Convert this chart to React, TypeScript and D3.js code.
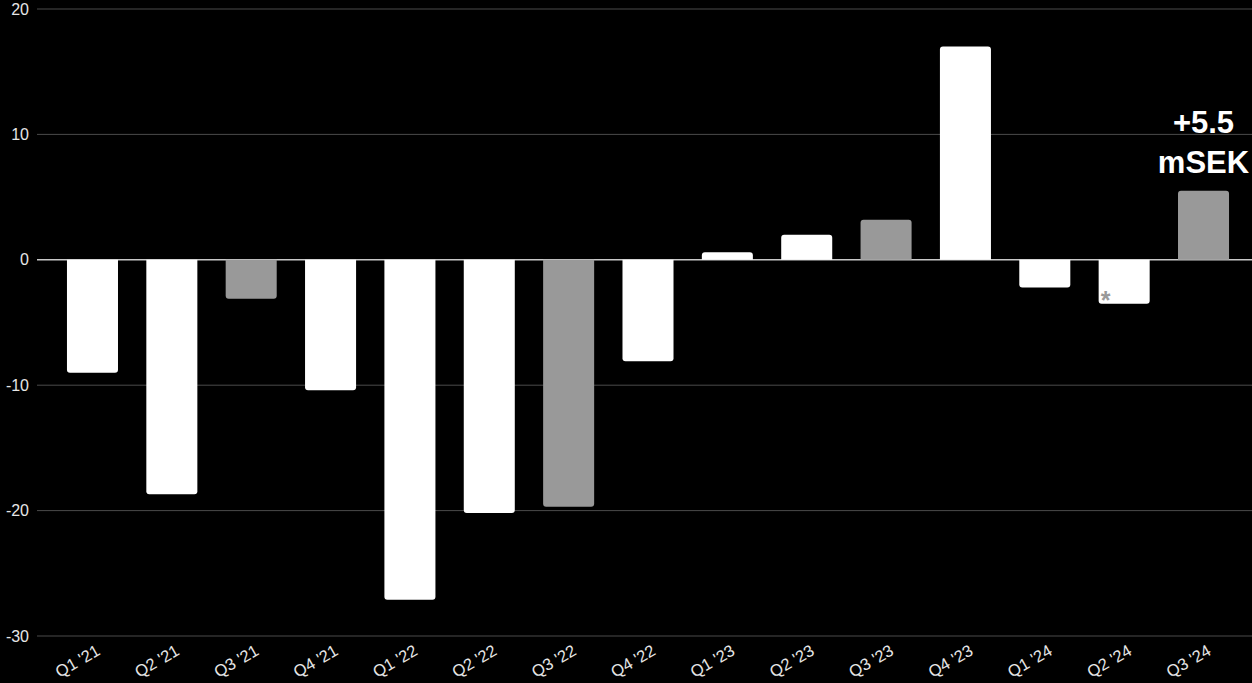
import React from "react";
import * as d3 from "d3";

const categories = ["Q1 '21", "Q2 '21", "Q3 '21", "Q4 '21", "Q1 '22", "Q2 '22", "Q3 '22", "Q4 '22", "Q1 '23", "Q2 '23", "Q3 '23", "Q4 '23", "Q1 '24", "Q2 '24", "Q3 '24"];
const values = [-9.0, -18.7, -3.1, -10.4, -27.1, -20.2, -19.7, -8.1, 0.6, 2.0, 3.2, 17.0, -2.2, -3.5, 5.5];
const highlighted = [false, false, true, false, false, false, true, false, false, false, true, false, false, false, true];
const yTicks = [20, 10, 0, -10, -20, -30];
const annotationLines = ["+5.5", "mSEK"];
const footnoteMark = "*";
const footnoteIndex = 13;

const W = 1252;
const H = 683;
const FONT = "'Liberation Sans', Arial, Helvetica, sans-serif";

function barPath(x0: number, x1: number, yZero: number, yEnd: number, r: number): string {
  const dir = yEnd < yZero ? -1 : 1;
  const h = Math.abs(yEnd - yZero);
  const rr = Math.min(r, h / 2, (x1 - x0) / 2);
  const p = d3.path();
  p.moveTo(x0, yZero);
  p.lineTo(x0, yEnd - dir * rr);
  p.quadraticCurveTo(x0, yEnd, x0 + rr, yEnd);
  p.lineTo(x1 - rr, yEnd);
  p.quadraticCurveTo(x1, yEnd, x1, yEnd - dir * rr);
  p.lineTo(x1, yZero);
  p.closePath();
  return p.toString();
}

export default function App() {
  const x = d3.scaleBand<string>().domain(categories).range([52.8, 1243.2]).paddingInner(0.357).paddingOuter(0.1785);
  const y = d3.scaleLinear().domain([-30, 20]).range([636, 9]);
  const gridX0 = 37;

  return (
    <svg
      width={W}
      height={H}
      style={{ position: "fixed", left: 0, top: 0, background: "#000", display: "block" }}
      fontFamily={FONT}
    >
      <rect x={0} y={0} width={W} height={H} fill="#000" />
      {yTicks.map((t) => (
        <g key={t}>
          <line
            x1={gridX0}
            x2={W}
            y1={y(t)}
            y2={y(t)}
            stroke={t === 0 ? "#c8c8c8" : "#4a4a4a"}
            strokeWidth={t === 0 ? 1.5 : 1}
          />
          <text x={29} y={y(t)} dy="0.35em" textAnchor="end" fill="#e6e6e6" fontSize={16}>
            {t}
          </text>
        </g>
      ))}
      {categories.map((c, i) => {
        const x0 = x(c)!;
        const x1 = x0 + x.bandwidth();
        return (
          <path
            key={c}
            d={barPath(x0, x1, y(0), y(values[i]), 3)}
            fill={highlighted[i] ? "#999999" : "#ffffff"}
          />
        );
      })}
      {categories.map((c) => {
        const cx = x(c)! + x.bandwidth() / 2 - 15;
        const cy = 661;
        return (
          <text
            key={c}
            x={cx}
            y={cy}
            dy="0.35em"
            textAnchor="middle"
            fill="#e6e6e6"
            fontSize={16.5}
            transform={`rotate(-30, ${cx}, ${cy})`}
          >
            {c}
          </text>
        );
      })}
      <text
        x={x(categories[footnoteIndex])! + 7}
        y={y(values[footnoteIndex]) + 5}
        fill="#999999"
        fontSize={25}
        fontWeight="bold"
        textAnchor="middle"
      >
        {footnoteMark}
      </text>
      {annotationLines.map((l, k) => {
        const last = categories.length - 1;
        const cx = x(categories[last])! + x.bandwidth() / 2;
        return (
          <text
            key={l}
            x={cx}
            y={133 + k * 40}
            textAnchor="middle"
            fill="#ffffff"
            fontSize={31}
            fontWeight="bold"
          >
            {l}
          </text>
        );
      })}
    </svg>
  );
}
